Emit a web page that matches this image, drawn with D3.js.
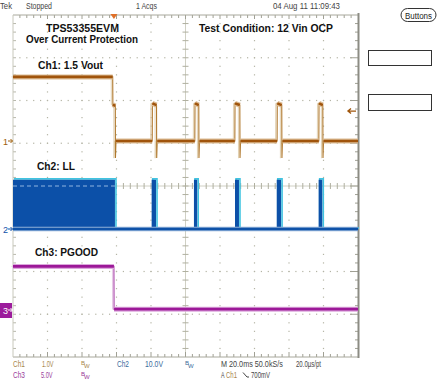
<!DOCTYPE html>
<html>
<head>
<meta charset="utf-8">
<script src="https://cdn.jsdelivr.net/npm/d3@7"></script>
<style>
body { margin: 0; background: #fff; }
svg { display: block; }
text { font-family: "Liberation Sans Narrow", "Liberation Sans", Arial, sans-serif; }
.bold { font-family: "Liberation Sans", Arial, sans-serif; font-weight: bold; }
</style>
</head>
<body>
<div id="scope"></div>
<script>
// time base: 10 div x 20 ms
var timeDomain = [0, 200];
var voltsPerDiv = [1.0, 10.0, 5.0];
var triggerTime = 58.5;
var triggerLevel = 0.7;

// Ch1: 1.5 Vout (V)
var ch1Time  = [0, 57.8, 57.9, 59.3, 59.4, 59.7, 80.7, 80.8, 83.2, 83.3, 83.6, 105.4, 105.5, 107.7, 107.8, 108.1, 128.6, 128.7, 131.5, 131.6, 131.9, 153.1, 153.2, 155.8, 155.9, 156.2, 177.3, 177.4, 179.6, 179.7, 180.0, 200];
var ch1Volts = [1.5, 1.5, 0.85, 0.82, -0.4, 0, 0, 0.88, 0.84, -0.4, 0, 0, 0.88, 0.84, -0.4, 0, 0, 0.88, 0.84, -0.4, 0, 0, 0.88, 0.84, -0.4, 0, 0, 0.88, 0.84, -0.4, 0, 0];

// Ch2: LL switch node envelope (V)
var ch2Time  = [0, 0, 59.1, 59.1, 80.4, 80.4, 82.9, 82.9, 104.9, 104.9, 106.8, 106.8, 128.7, 128.7, 131.0, 131.0, 152.9, 152.9, 155.4, 155.4, 177.2, 177.2, 179.3, 179.3, 200];
var ch2Volts = [0, 11.5, 11.5, 0, 0, 11.5, 11.5, 0, 0, 11.5, 11.5, 0, 0, 11.5, 11.5, 0, 0, 11.5, 11.5, 0, 0, 11.5, 11.5, 0, 0];

// Ch3: PGOOD (V)
var ch3Time  = [0, 58.5, 58.6, 200];
var ch3Volts = [5.1, 5.1, 0.1, 0.1];

var W = 440, H = 388;
var L = 13, R = 358, T = 15, B = 357;
var divW = (R - L) / 10, divH = (B - T) / 8;
var gnd = [141, 229, 310];

var svg = d3.select("#scope").append("svg").attr("width", W).attr("height", H);

var x = d3.scaleLinear().domain(timeDomain).range([L, R]);
var ys = gnd.map(function (g, i) {
  return d3.scaleLinear().domain([0, voltsPerDiv[i]]).range([g, g - divH]);
});

/* graticule */
var grid = svg.append("g");
var gridCol = "#b4b4a4";
var cx = L + 5 * divW, cy = T + 4 * divH;
for (var k = 1; k < 8; k++) {
  if (k === 4) continue;
  var gy = T + k * divH;
  d3.range(1, 50).forEach(function (i) {
    grid.append("rect").attr("x", L + i * divW / 5 - 0.6).attr("y", gy - 0.6)
      .attr("width", 1.2).attr("height", 1.2).attr("fill", gridCol);
  });
}
for (var k = 1; k < 10; k++) {
  if (k === 5) continue;
  var gx = L + k * divW;
  d3.range(1, 40).forEach(function (j) {
    grid.append("rect").attr("x", gx - 0.6).attr("y", T + j * divH / 5 - 0.6)
      .attr("width", 1.2).attr("height", 1.2).attr("fill", gridCol);
  });
}
// center cross
grid.append("line").attr("x1", L).attr("x2", R).attr("y1", cy).attr("y2", cy)
  .attr("stroke", "#d0d0c4").attr("stroke-width", 1);
grid.append("line").attr("x1", cx).attr("x2", cx).attr("y1", T).attr("y2", B)
  .attr("stroke", "#d0d0c4").attr("stroke-width", 1);
d3.range(1, 50).forEach(function (i) {
  var tx = L + i * divW / 5;
  grid.append("line").attr("x1", tx).attr("x2", tx).attr("y1", cy - 3).attr("y2", cy + 3)
    .attr("stroke", "#b0b0a0");
  grid.append("line").attr("x1", tx).attr("x2", tx).attr("y1", T).attr("y2", T + (i % 5 ? 3 : 4))
    .attr("stroke", "#a0a094");
  grid.append("line").attr("x1", tx).attr("x2", tx).attr("y1", B).attr("y2", B - (i % 5 ? 3 : 5))
    .attr("stroke", "#a0a094");
});
d3.range(1, 40).forEach(function (j) {
  var ty = T + j * divH / 5;
  grid.append("line").attr("x1", cx - 3).attr("x2", cx + 3).attr("y1", ty).attr("y2", ty)
    .attr("stroke", "#b0b0a0");
  grid.append("line").attr("x1", L).attr("x2", L + 3).attr("y1", ty).attr("y2", ty)
    .attr("stroke", "#b8b8ac");
  grid.append("line").attr("x1", R).attr("x2", R - (j % 5 ? 3 : 8)).attr("y1", ty).attr("y2", ty)
    .attr("stroke", "#a0a094");
});
grid.append("line").attr("x1", L).attr("x2", R).attr("y1", T).attr("y2", T).attr("stroke", "#a8a89c");
grid.append("line").attr("x1", L).attr("x2", R).attr("y1", B).attr("y2", B).attr("stroke", "#a8a89c");
grid.append("line").attr("x1", L).attr("x2", L).attr("y1", T).attr("y2", B).attr("stroke", "#c8c8bc");
svg.append("line").attr("x1", R + 0.5).attr("x2", R + 0.5).attr("y1", T - 2).attr("y2", B + 1)
  .attr("stroke", "#8c8c84").attr("stroke-width", 2);

/* traces */
function pts(t, v) { return t.map(function (d, i) { return [d, v[i]]; }); }

function drawTrace(t, v, sc, edge, ghost, halo, body) {
  var data = pts(t, v);
  var line = d3.line().x(function (d) { return x(d[0]); }).y(function (d) { return sc(d[1]); });
  var g = svg.append("g");
  g.append("path").attr("d", line(data)).attr("fill", "none").attr("stroke", ghost)
    .attr("stroke-width", 1).attr("transform", "translate(-1.5,0)");
  g.append("path").attr("d", line(data)).attr("fill", "none").attr("stroke", edge).attr("stroke-width", 1.1);
  var flats = [];
  for (var i = 0; i < data.length - 1; i++) {
    if (Math.abs(data[i + 1][1] - data[i][1]) < 0.1 && data[i + 1][0] - data[i][0] > 0.5)
      flats.push([data[i], data[i + 1]]);
  }
  g.selectAll(".halo").data(flats).enter().append("path").attr("class", "halo")
    .attr("d", line).attr("stroke", halo).attr("stroke-width", 5).attr("fill", "none");
  g.selectAll(".body").data(flats).enter().append("path").attr("class", "body")
    .attr("d", line).attr("stroke", body).attr("stroke-width", 2.6).attr("fill", "none");
}

// Ch2 envelope
var ch2 = pts(ch2Time, ch2Volts);
var area2 = d3.area().x(function (d) { return x(d[0]); }).y0(ys[1](0)).y1(function (d) { return ys[1](d[1]); });
var line2 = d3.line().x(function (d) { return x(d[0]); }).y(function (d) { return ys[1](d[1]); });
svg.append("path").attr("d", line2(ch2.slice(1))).attr("fill", "none").attr("stroke", "#40c4e0")
  .attr("stroke-width", 1.6).attr("transform", "translate(1,-1)");
svg.append("path").attr("d", area2(ch2)).attr("fill", "#0c50a8");
svg.append("line").attr("x1", x(timeDomain[0])).attr("x2", x(timeDomain[1]))
  .attr("y1", ys[1](0)).attr("y2", ys[1](0)).attr("stroke", "#8fb0d8").attr("stroke-width", 4.5);
svg.append("line").attr("x1", x(timeDomain[0])).attr("x2", x(timeDomain[1]))
  .attr("y1", ys[1](0)).attr("y2", ys[1](0)).attr("stroke", "#0f52a8").attr("stroke-width", 2.6);
// center graticule seen through the burst
svg.append("line").attr("x1", L).attr("x2", x(ch2Time[2])).attr("y1", cy).attr("y2", cy)
  .attr("stroke", "#8fb4e0").attr("stroke-dasharray", "4,3");

drawTrace(ch1Time, ch1Volts, ys[0], "#b0782c", "#e2d2b4", "#dcbc94", "#a0540c");
drawTrace(ch3Time, ch3Volts, ys[2], "#a840a8", "#e6c8e6", "#dca8dc", "#9c1898");

/* markers */
function gndMarker(i, label, col, boxed) {
  var gy = gnd[i];
  var m = svg.append("g");
  var fg = col;
  if (boxed) {
    m.append("rect").attr("x", 0).attr("y", gy - 7).attr("width", 12).attr("height", 15).attr("fill", col);
    fg = "#fff";
  }
  m.append("text").attr("x", 3).attr("y", gy + 3.5).attr("font-size", 9).attr("fill", fg).text(label);
  m.append("path").attr("d", "M8," + gy + "H12.5M10.5," + (gy - 2) + "L12.5," + gy + "L10.5," + (gy + 2))
    .attr("stroke", fg).attr("fill", "none").attr("stroke-width", 1);
}
gndMarker(0, "1", "#a0600c", false);
gndMarker(1, "2", "#1050a8", false);
gndMarker(2, "3", "#9c1c9c", true);

var tx = x(triggerTime);
svg.append("path").attr("d", "M" + (tx - 3.5) + "," + (T - 1) + "H" + (tx + 3.5) + "L" + tx + "," + (T + 4) + "Z")
  .attr("fill", "#e07028");
var tl = ys[0](triggerLevel);
svg.append("path").attr("d", "M" + (R - 2) + "," + tl + "H" + (R - 10) + "M" + (R - 7) + "," + (tl - 2.5) + "L" + (R - 10) + "," + tl + "L" + (R - 7) + "," + (tl + 2.5))
  .attr("stroke", "#a0560c").attr("fill", "none").attr("stroke-width", 1.4);

/* annotations */
function txt(xp, yp, s, size, col, len, cls, anchor) {
  var t = svg.append("text").attr("x", xp).attr("y", yp).attr("font-size", size)
    .attr("fill", col).attr("class", cls || null).attr("text-anchor", anchor || "start").text(s);
  if (len) t.attr("textLength", len).attr("lengthAdjust", "spacingAndGlyphs");
  return t;
}
txt(0, 9, "Tek", 9, "#444", 12);
txt(26, 9, "Stopped", 9, "#444", 26);
txt(136, 9, "1 Acqs", 9, "#444", 21);
txt(273, 9, "04 Aug 11 11:09:43", 9, "#444", 67);
svg.append("rect").attr("x", 401).attr("y", 8.5).attr("width", 35).attr("height", 13).attr("rx", 6.5)
  .attr("fill", "#fff").attr("stroke", "#333").attr("stroke-width", 1);
txt(418.5, 18.5, "Buttons", 8.5, "#222", 27, null, "middle");
svg.append("rect").attr("x", 368.5).attr("y", 50.5).attr("width", 63).attr("height", 15)
  .attr("fill", "#fff").attr("stroke", "#333");
svg.append("rect").attr("x", 368.5).attr("y", 94.5).attr("width", 63).attr("height", 16)
  .attr("fill", "#fff").attr("stroke", "#333");

txt(46, 32, "TPS53355EVM", 11.5, "#111", 73, "bold");
txt(26, 43, "Over Current Protection", 11.5, "#111", 112, "bold");
txt(199, 32, "Test Condition: 12 Vin OCP", 11.5, "#111", 134, "bold");
txt(38, 68.5, "Ch1: 1.5 Vout", 11, "#111", 65, "bold");
txt(37, 170, "Ch2: LL", 11, "#111", 38, "bold");
txt(35, 256, "Ch3: PGOOD", 11, "#111", 63, "bold");

var c1 = "#a8864c", c2 = "#3c6c9c", c3 = "#9a3c9a";
txt(13, 367, "Ch1", 9, c1, 12);
txt(42, 367, "1.0V", 9, c1, 11.5);
txt(81, 365, "B", 6, c1); txt(84, 368, "W", 6, c1);
txt(117, 367, "Ch2", 9, c2, 12);
txt(145, 367, "10.0V", 9, c2, 18);
txt(185, 365, "B", 6, c2); txt(188, 368, "W", 6, c2);
txt(13, 378, "Ch3", 9, c3, 12);
txt(41, 378, "5.0V", 9, c3, 11.5);
txt(81, 376, "B", 6, c3); txt(84, 379, "W", 6, c3);
txt(221, 367, "M 20.0ms 50.0kS/s", 9, "#444", 62);
txt(296, 367, "20.0\u00b5s/pt", 9, "#444", 25);
txt(221, 378, "A", 9, "#444", 3.5);
txt(226, 378, "Ch1", 9, c1, 11);
svg.append("path").attr("d", "M243,372.5L247,377H249").attr("stroke", "#444").attr("fill", "none");
txt(251, 378, "700mV", 9, "#444", 19);
</script>
</body>
</html>
